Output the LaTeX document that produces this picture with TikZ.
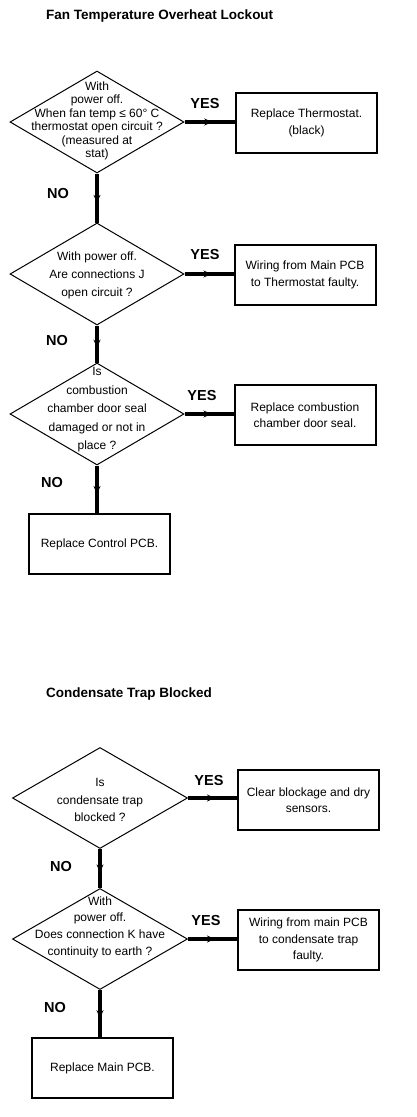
\documentclass[tikz,border=0pt]{standalone}
\usepackage{fontspec}
\setmainfont{Liberation Sans}
\usetikzlibrary{shapes.geometric,arrows.meta,decorations.markings}
\tikzset{
  dia/.style={draw, shape=diamond, line width=1pt, minimum width=174pt, minimum height=102pt, inner sep=0pt},
  dtext/.style={align=center, inner sep=0pt, font=\fontsize{12}{#1}\selectfont},
  box/.style={draw, line width=2pt, minimum width=141pt, minimum height=60pt, align=center, inner sep=0pt, font=\fontsize{12}{16.5}\selectfont},
  conn/.style={line width=3.5pt, postaction=decorate,
    decoration={markings, mark=at position #1 with {\arrow{Stealth[length=8pt,width=7pt]}}}},
  conn/.default=0.55,
  lbl/.style={font=\bfseries\fontsize{14.5}{16}\selectfont, inner sep=0pt},
  ttl/.style={font=\bfseries\fontsize{13.5}{16}\selectfont, inner sep=0pt, anchor=west}
}
\begin{document}
\begin{tikzpicture}[x=1pt,y=-1pt]
\useasboundingbox (0,0) rectangle (416,1117);

% ---- Section 1
\node[ttl] (title1) at (46,16) {Fan Temperature Overheat Lockout};

\node[dia] (d1) at (97,122) {};
\node[dtext=13.5] (t1) at (97,121) {With\\power off.\\When fan temp ≤ 60° C\\thermostat open circuit ?\\(measured at\\stat)};
\node[box] (b1) at (306.5,123) {Replace Thermostat.\\(black)};
\node[lbl] (y1) at (205,104) {YES};
\node[lbl] (n1) at (58,194) {NO};

\node[dia] (d2) at (97,274) {};
\node[dtext=18] (t2) at (97,275) {With power off.\\Are connections J\\open circuit ?};
\node[box] (b2) at (305,275) {Wiring from Main PCB\\to Thermostat faulty.};
\node[lbl] (y2) at (205,255) {YES};
\node[lbl] (n2) at (57,341) {NO};

\node[dia] (d3) at (97,414) {};
\node[dtext=18.5] (t3) at (97,410) {Is\\combustion\\chamber door seal\\damaged or not in\\place ?};
\node[box] (b3) at (305,415) {Replace combustion\\chamber door seal.};
\node[lbl] (y3) at (202,396) {YES};
\node[lbl] (n3) at (52,483) {NO};

\node[box] (b4) at (99.5,544) {Replace Control PCB.};

\draw[conn] (d1.east) -- (d1.east -| b1.west);
\draw[conn] (d2.east) -- (d2.east -| b2.west);
\draw[conn] (d3.east) -- (d3.east -| b3.west);
\draw[conn=0.6] (d1.south) -- (d2.north);
\draw[conn=0.6] (d2.south) -- (d3.north);
\draw[conn=0.6] (d3.south) -- (d3.south |- b4.north);

% ---- Section 2
\node[ttl] (title2) at (46,694) {Condensate Trap Blocked};

\node[dia, minimum width=175pt, minimum height=101pt] (d4) at (100,798) {};
\node[dtext=17.5] (t4) at (100,800) {Is\\condensate trap\\blocked ?};
\node[box] (b5) at (308.5,800) {Clear blockage and dry\\sensors.};
\node[lbl] (y4) at (209,780) {YES};
\node[lbl] (n4) at (61,866) {NO};

\node[dia, minimum width=175pt, minimum height=101pt] (d5) at (100,939) {};
\node[dtext=16.7] (t5) at (100,927) {With\\power off.\\Does connection K have\\continuity to earth ?};
\node[box] (b6) at (308.5,940) {Wiring from main PCB\\to condensate trap\\faulty.};
\node[lbl] (y5) at (206,920) {YES};
\node[lbl] (n5) at (55,1007) {NO};

\node[box] (b7) at (102.5,1068) {Replace Main PCB.};

\draw[conn] (d4.east) -- (d4.east -| b5.west);
\draw[conn] (d5.east) -- (d5.east -| b6.west);
\draw[conn=0.6] (d4.south) -- (d5.north);
\draw[conn=0.6] (d5.south) -- (d5.south |- b7.north);
\end{tikzpicture}
\end{document}
